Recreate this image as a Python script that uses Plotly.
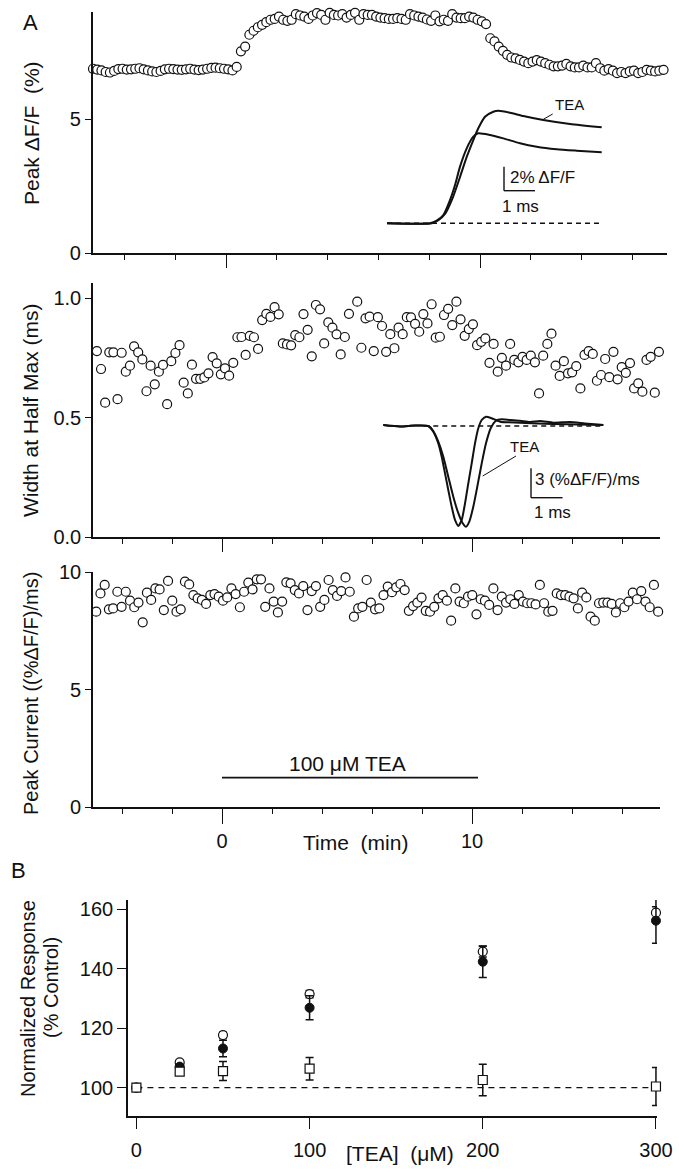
import plotly.graph_objects as go

W, H = 679, 1169
FONT = "Liberation Sans, Arial, sans-serif"
INK = "#111111"

# ---------------- Panel A data (time in min) ----------------
PEAK_T0, PEAK_DT = -5.24, 0.1664
peak_dff = [
    6.88, 6.85, 6.82, 6.76, 6.74, 6.80, 6.87, 6.88, 6.85, 6.86, 6.88, 6.90, 6.86, 6.82, 6.78,
    6.76, 6.80, 6.86, 6.88, 6.87, 6.85, 6.84, 6.86, 6.88, 6.85, 6.83, 6.85, 6.88, 6.91, 6.92,
    6.90, 6.88, 6.86, 6.82, 6.95,
    7.53, 7.71, 8.15, 8.30, 8.43, 8.52, 8.62, 8.71, 8.74, 8.83, 8.71, 8.67, 8.71, 8.92, 8.87,
    8.83, 8.74, 8.87, 8.96, 8.89, 8.71, 8.97, 8.89, 8.87, 8.92, 8.79, 8.89, 8.97, 8.71, 8.92,
    8.89, 8.89, 8.83,
    8.79, 8.77, 8.74, 8.74, 8.77, 8.74, 8.71, 8.92, 8.87, 8.83, 8.79, 8.72, 8.67, 8.87, 8.65,
    8.71, 8.67, 8.92, 8.79, 8.77, 8.77, 8.83, 8.79, 8.71, 8.65, 8.55,
    8.02, 7.90, 7.71, 7.55, 7.40, 7.30, 7.27, 7.21, 7.15, 7.09, 7.15, 7.20, 7.15, 7.09, 7.03,
    6.97, 6.97, 7.00, 7.06, 6.97, 6.93, 6.93, 7.00, 6.93, 6.93, 7.09, 6.90, 6.81, 6.87, 6.81,
    6.72, 6.76, 6.72, 6.78, 6.81, 6.72, 6.76, 6.84, 6.81, 6.78, 6.81, 6.84, 6.81, 6.90,
]

WIDTH_T0, WIDTH_DT = -5.17, 0.1653
width_half_max = [
    0.681, 0.778, 0.703, 0.562, 0.773, 0.773, 0.577, 0.771, 0.692, 0.717,
    0.798, 0.773, 0.743, 0.610, 0.717, 0.639, 0.692, 0.720, 0.556, 0.736,
    0.770, 0.803, 0.646, 0.601, 0.721, 0.662, 0.662, 0.668, 0.685, 0.753,
    0.727, 0.681, 0.706, 0.675, 0.729, 0.836, 0.837, 0.762, 0.842, 0.836,
    0.787, 0.908, 0.934, 0.921, 0.962, 0.932, 0.810, 0.806, 0.802, 0.845,
    0.836, 0.933, 0.867, 0.756, 0.971, 0.953, 0.810, 0.898, 0.876, 0.848,
    0.764, 0.837, 0.934, 1.064, 0.985, 0.792, 0.915, 0.922, 0.778,
    0.920, 0.883, 0.775, 0.849, 0.790, 0.876, 0.849, 0.920, 0.919, 0.892,
    0.859, 0.933, 0.894, 0.974, 0.834, 0.838, 0.929, 0.955, 0.887, 0.985,
    0.911, 0.842, 0.870, 0.890, 0.803, 0.817, 0.831, 0.729, 0.808, 0.692,
    0.750, 0.717, 0.808, 0.741, 0.731, 0.754, 0.741, 0.759, 0.731, 0.601,
    0.759, 0.808, 0.851, 0.717, 0.674, 0.736, 0.685, 0.689, 0.715, 0.622,
    0.762, 0.778, 0.766, 0.654, 0.678, 0.745, 0.669, 0.775, 0.660, 0.711,
    0.687, 0.728, 0.622, 0.643, 0.608, 0.741, 0.754, 0.604, 0.775,
]

CURR_T0, CURR_DT = -5.2, 0.169
peak_current = [
    8.74, 8.31, 9.09, 9.45, 8.41, 8.45, 9.16, 8.52, 9.16, 8.78,
    8.50, 8.70, 7.86, 9.12, 8.81, 9.30, 9.26, 8.38, 9.62, 8.78,
    8.31, 8.41, 9.59, 9.47, 9.02, 8.88, 8.81, 8.64, 9.02, 9.06,
    8.95, 8.78, 8.92, 9.30, 9.06, 8.50, 9.16, 9.55, 9.26, 9.69,
    9.69, 8.52, 9.30, 8.74, 8.28, 8.74, 9.56, 9.52, 9.23, 9.09,
    9.40, 8.38, 9.19, 9.40, 8.52, 8.81, 9.66, 9.23, 8.98, 9.19,
    9.77, 9.16, 8.10, 8.45, 8.52, 9.66, 8.70, 8.41, 8.45, 9.02,
    9.38, 9.14, 9.35, 9.49, 9.23, 8.35, 8.55, 8.70, 8.91, 8.35,
    8.31, 8.52, 8.88, 9.02, 8.78, 7.93, 9.30, 8.74, 8.67, 8.95,
    9.02, 8.20, 8.84, 8.78, 8.60, 9.30, 8.38, 8.95, 8.70, 8.84,
    8.64, 9.02, 8.74, 8.67, 8.67, 8.62, 9.45, 8.67, 8.31, 8.35,
    9.09, 9.02, 9.02, 8.95, 8.88, 8.45, 9.12, 8.92, 8.10, 7.93,
    8.67, 8.70, 8.70, 8.64, 8.28, 8.67, 8.50, 8.74, 9.12, 8.84,
    9.19, 8.74, 8.50, 9.45, 8.31,
]
TEA_APPLICATION = [0.0, 10.24]   # min
TEA_BAR_LEVEL = 1.25

# ---------------- Inset traces ----------------
# fluorescence transients (ms, % dF/F)
ap_ms_ctrl = [0, 1.387, 1.603, 1.816, 2.032, 2.194, 2.355, 2.571, 2.784, 2.945, 3.323, 3.752,
              4.29, 4.829, 5.474, 6.119, 6.926]
ap_ctrl = [0, 0, 0.22, 0.69, 1.94, 3.19, 4.72, 6.25, 7.22, 7.50, 7.36, 7.08, 6.67, 6.38,
           6.17, 6.05, 5.92]
ap_ms_tea = [0, 1.452, 1.645, 1.871, 2.129, 2.355, 2.571, 2.784, 2.945, 3.161, 3.429, 3.59,
             3.968, 4.397, 5.042, 5.903, 6.926]
ap_tea = [0, 0, 0.23, 0.78, 2.19, 3.86, 5.53, 6.94, 7.92, 8.88, 9.30, 9.38, 9.22, 8.94,
          8.61, 8.28, 8.00]

# derivative traces (ms, (%dF/F)/ms)
dv_ms_ctrl = [0, 0.53, 1.006, 1.429, 1.587, 1.746, 1.854, 1.959, 2.063, 2.171, 2.276, 2.381,
              2.489, 2.594, 2.698, 2.806, 2.911, 3.016, 3.124, 3.26, 3.441, 3.705, 4.34,
              5.397, 6.984]
dv_ctrl = [0.1, -0.05, 0.05, 0, -0.58, -1.77, -3.13, -4.83, -6.53, -8.23, -9.59, -10.2,
           -9.59, -7.89, -5.85, -3.81, -1.77, -0.23, 0.61, 0.95, 0.79, 0.44, 0.34, 0.2, 0.1]
dv_ms_tea = [0, 0.53, 1.006, 1.429, 1.587, 1.746, 1.905, 2.063, 2.222, 2.381, 2.521, 2.625,
             2.73, 2.857, 2.984, 3.124, 3.26, 3.41, 3.578, 3.759, 4.022, 4.34, 4.657, 4.975,
             5.397, 5.927, 6.403, 6.984]
dv_tea = [0.1, -0.05, 0.05, 0, -0.51, -1.6, -3.13, -5.17, -7.21, -8.9, -9.92, -10.28,
          -9.76, -8.23, -6.19, -3.81, -1.77, -0.23, 0.54, 0.68, 0.61, 0.54, 0.41, 0.51,
          0.34, 0.41, 0.26, 0.1]

# ---------------- Panel B data ----------------
tea_conc = [0, 25, 50, 100, 200, 300]
peak_resp = [100, 108.5, 117.7, 131.5, 145.8, 158.9]
peak_err = [0, 0.8, 1.0, 1.2, 1.8, 2.0]
width_resp = [100, 107.1, 113.2, 126.9, 142.4, 156.2]
width_err = [0, 0.8, 2.8, 4.0, 5.3, 7.6]
current_resp = [100, 105.4, 105.6, 106.4, 102.6, 100.4]
current_err = [0, 0.6, 3.2, 3.8, 5.3, 6.4]


def pdx(x):
    return x / W


def pdy(y):
    return 1 - y / H


def grid(t0, dt, n):
    return [t0 + dt * i for i in range(n)]


fig = go.Figure()
open_circle = dict(symbol="circle", size=9, color="white", line=dict(color=INK, width=1.2))

fig.add_trace(go.Scatter(x=grid(PEAK_T0, PEAK_DT, len(peak_dff)), y=peak_dff, mode="markers",
                         marker=open_circle, xaxis="x", yaxis="y", cliponaxis=False))
fig.add_trace(go.Scatter(x=grid(WIDTH_T0, WIDTH_DT, len(width_half_max)), y=width_half_max,
                         mode="markers", marker=open_circle, xaxis="x2", yaxis="y2", cliponaxis=False))
fig.add_trace(go.Scatter(x=grid(CURR_T0, CURR_DT, len(peak_current)), y=peak_current,
                         mode="markers", marker=open_circle, xaxis="x3", yaxis="y3", cliponaxis=False))
fig.add_trace(go.Scatter(x=TEA_APPLICATION, y=[TEA_BAR_LEVEL] * 2, mode="lines",
                         line=dict(color=INK, width=1.6), xaxis="x3", yaxis="y3"))

# inset 1
fig.add_trace(go.Scatter(x=[0, ap_ms_ctrl[-1]], y=[0, 0], mode="lines",
                         line=dict(color=INK, width=1.5, dash="5px,4px"), xaxis="x5", yaxis="y5"))
for xs, ys in [(ap_ms_ctrl, ap_ctrl), (ap_ms_tea, ap_tea)]:
    fig.add_trace(go.Scatter(x=xs, y=ys, mode="lines", line=dict(color=INK, width=2, shape="spline", smoothing=0.6),
                             xaxis="x5", yaxis="y5"))
# inset 2
fig.add_trace(go.Scatter(x=[1.3, dv_ms_ctrl[-1]], y=[0, 0], mode="lines",
                         line=dict(color=INK, width=1.5, dash="5px,4px"), xaxis="x6", yaxis="y6"))
for xs, ys in [(dv_ms_ctrl, dv_ctrl), (dv_ms_tea, dv_tea)]:
    fig.add_trace(go.Scatter(x=xs, y=ys, mode="lines", line=dict(color=INK, width=2, shape="spline", smoothing=0.6),
                             xaxis="x6", yaxis="y6"))

# panel B
fig.add_trace(go.Scatter(x=[0, 300], y=[100, 100], mode="lines",
                         line=dict(color=INK, width=1.3, dash="6px,5px"), xaxis="x4", yaxis="y4"))
err_style = dict(type="data", thickness=1.5, width=4, color=INK)
fig.add_trace(go.Scatter(x=tea_conc, y=peak_resp, mode="markers", marker=open_circle,
                         error_y=dict(array=peak_err, **err_style), xaxis="x4", yaxis="y4", cliponaxis=False))
fig.add_trace(go.Scatter(x=tea_conc, y=width_resp, mode="markers",
                         marker=dict(symbol="circle", size=9, color=INK, line=dict(color=INK, width=1)),
                         error_y=dict(array=width_err, **err_style), xaxis="x4", yaxis="y4", cliponaxis=False))
fig.add_trace(go.Scatter(x=tea_conc, y=current_resp, mode="markers",
                         marker=dict(symbol="square", size=9, color="white", line=dict(color=INK, width=1.2)),
                         error_y=dict(array=current_err, **err_style), xaxis="x4", yaxis="y4", cliponaxis=False))

tickfont = dict(family=FONT, size=20, color=INK)
base = dict(showline=True, linecolor=INK, linewidth=1.6, ticks="outside", tickcolor=INK,
            tickwidth=1.3, showgrid=False, zeroline=False, tickfont=tickfont, automargin=False)
minor = dict(dtick=2, tick0=0, ticklen=5, ticks="outside", tickcolor=INK, tickwidth=1.3, showgrid=False)

layout = dict(
    width=W, height=H, autosize=False,
    margin=dict(l=0, r=0, t=0, b=0, pad=0, autoexpand=False), showlegend=False,
    paper_bgcolor="white", plot_bgcolor="rgba(0,0,0,0)", font=dict(family=FONT, color=INK),
    xaxis=dict(base, domain=[pdx(93), pdx(667)], range=[-5.24, 17.36], anchor="y", tick0=0, dtick=10,
               ticklen=13, showticklabels=False, minor=minor),
    yaxis=dict(base, domain=[pdy(253), pdy(12)], range=[0, 9.0], anchor="x", tickvals=[0, 5], ticklen=6,
               linewidth=2.2),
    xaxis2=dict(base, domain=[pdx(93), pdx(660)], range=[-5.16, 17.52], anchor="y2", tick0=0, dtick=10,
                ticklen=13, showticklabels=False, minor=minor),
    yaxis2=dict(base, domain=[pdy(537), pdy(283)], range=[0, 1.063], anchor="x2",
                tickvals=[0, 0.5, 1.0], ticktext=["0.0", "0.5", "1.0"], ticklen=6),
    xaxis3=dict(base, domain=[pdx(93), pdx(660)], range=[-5.16, 17.52], anchor="y3", tick0=0, dtick=10,
                ticklen=15, minor=minor, ticklabelstandoff=0),
    yaxis3=dict(base, domain=[pdy(807), pdy(572)], range=[0, 10.0], anchor="x3", tickvals=[0, 5, 10], ticklen=6),
    xaxis4=dict(base, domain=[pdx(128), pdx(657)], range=[-4.85, 300.6], anchor="y4",
                tickvals=[0, 100, 200, 300], ticklen=11, ticklabelstandoff=4),
    yaxis4=dict(base, domain=[pdy(1116), pdy(900)], range=[90.48, 163.16], anchor="x4",
                tickvals=[100, 120, 140, 160], ticklen=9),
    xaxis5=dict(domain=[pdx(93), pdx(667)], range=[-9.484, 9.032], anchor="y5", visible=False),
    yaxis5=dict(domain=[pdy(253), pdy(12)], range=[-2.475, 17.608], anchor="x5", visible=False),
    xaxis6=dict(domain=[pdx(93), pdx(660)], range=[-9.216, 8.784], anchor="y6", visible=False),
    yaxis6=dict(domain=[pdy(537), pdy(283)], range=[-11.327, 14.592], anchor="x6", visible=False),
)
fig.update_layout(**layout)

# scale bars and leader lines (inset furniture)
SB1 = dict(x=3.774, y=2.717, h=2.0, w=1.0)
SB2 = dict(x=4.689, y=-7.316, h=3.0, w=1.0)
bar = dict(color=INK, width=1.4)
shapes = [
    dict(type="line", xref="x5", yref="y5", x0=SB1["x"], x1=SB1["x"], y0=SB1["y"], y1=SB1["y"] + SB1["h"], line=bar),
    dict(type="line", xref="x5", yref="y5", x0=SB1["x"], x1=SB1["x"] + SB1["w"], y0=SB1["y"], y1=SB1["y"], line=bar),
    dict(type="line", xref="x5", yref="y5", x0=5.345, x1=5.042, y0=9.108, y1=8.667, line=dict(color=INK, width=1)),
    dict(type="line", xref="x6", yref="y6", x0=SB2["x"], x1=SB2["x"], y0=SB2["y"], y1=SB2["y"] + SB2["h"], line=bar),
    dict(type="line", xref="x6", yref="y6", x0=SB2["x"], x1=SB2["x"] + SB2["w"], y0=SB2["y"], y1=SB2["y"], line=bar),
    dict(type="line", xref="x6", yref="y6", x0=4.213, x1=3.156, y0=-3.061, y1=-5.102, line=dict(color=INK, width=1)),
]
fig.update_layout(shapes=shapes)


def txt(text, x, y, size=20, angle=0, xanchor="center", xref="paper", yref="paper"):
    return dict(text=text, x=x, y=y, xref=xref, yref=yref, showarrow=False, textangle=angle,
                xanchor=xanchor, yanchor="middle", font=dict(family=FONT, size=size, color=INK))


annotations = [
    txt("A", pdx(30), pdy(22), size=22),
    txt("B", pdx(18), pdy(870), size=22),
    txt("Peak \u0394F/F  (%)", pdx(31), pdy(133), size=21, angle=-90),
    txt("Width at Half Max (ms)", pdx(31), pdy(410), size=21, angle=-90),
    txt("Peak Current ((%\u0394F/F)/ms)", pdx(31), pdy(694), angle=-90),
    txt("Normalized Response", pdx(28), pdy(999), angle=-90),
    txt("(% Control)", pdx(51), pdy(988), angle=-90),
    txt("Time  (min)", pdx(355), pdy(842), size=21),
    txt("[TEA]  (\u03bcM)", pdx(400), pdy(1153), size=21),
    txt("100 \u03bcM TEA", 5.0, TEA_BAR_LEVEL + 0.6, size=21, xref="x3", yref="y3"),
    txt("TEA", 5.871, 9.94, size=15, xref="x5", yref="y5"),
    txt("2% \u0394F/F", 3.9, 3.78, size=17, xanchor="left", xref="x5", yref="y5"),
    txt("1 ms", 3.645, 1.44, size=17, xanchor="left", xref="x5", yref="y5"),
    txt("TEA", 4.498, -2.11, size=15, xref="x6", yref="y6"),
    txt("3 (%\u0394F/F)/ms", 4.752, -5.51, size=17, xanchor="left", xref="x6", yref="y6"),
    txt("1 ms", 4.72, -8.83, size=17, xanchor="left", xref="x6", yref="y6"),
]
fig.update_layout(annotations=annotations)

fig.write_html("out.html",
               post_script="document.body.style.margin='0';document.body.style.overflow='hidden';")
